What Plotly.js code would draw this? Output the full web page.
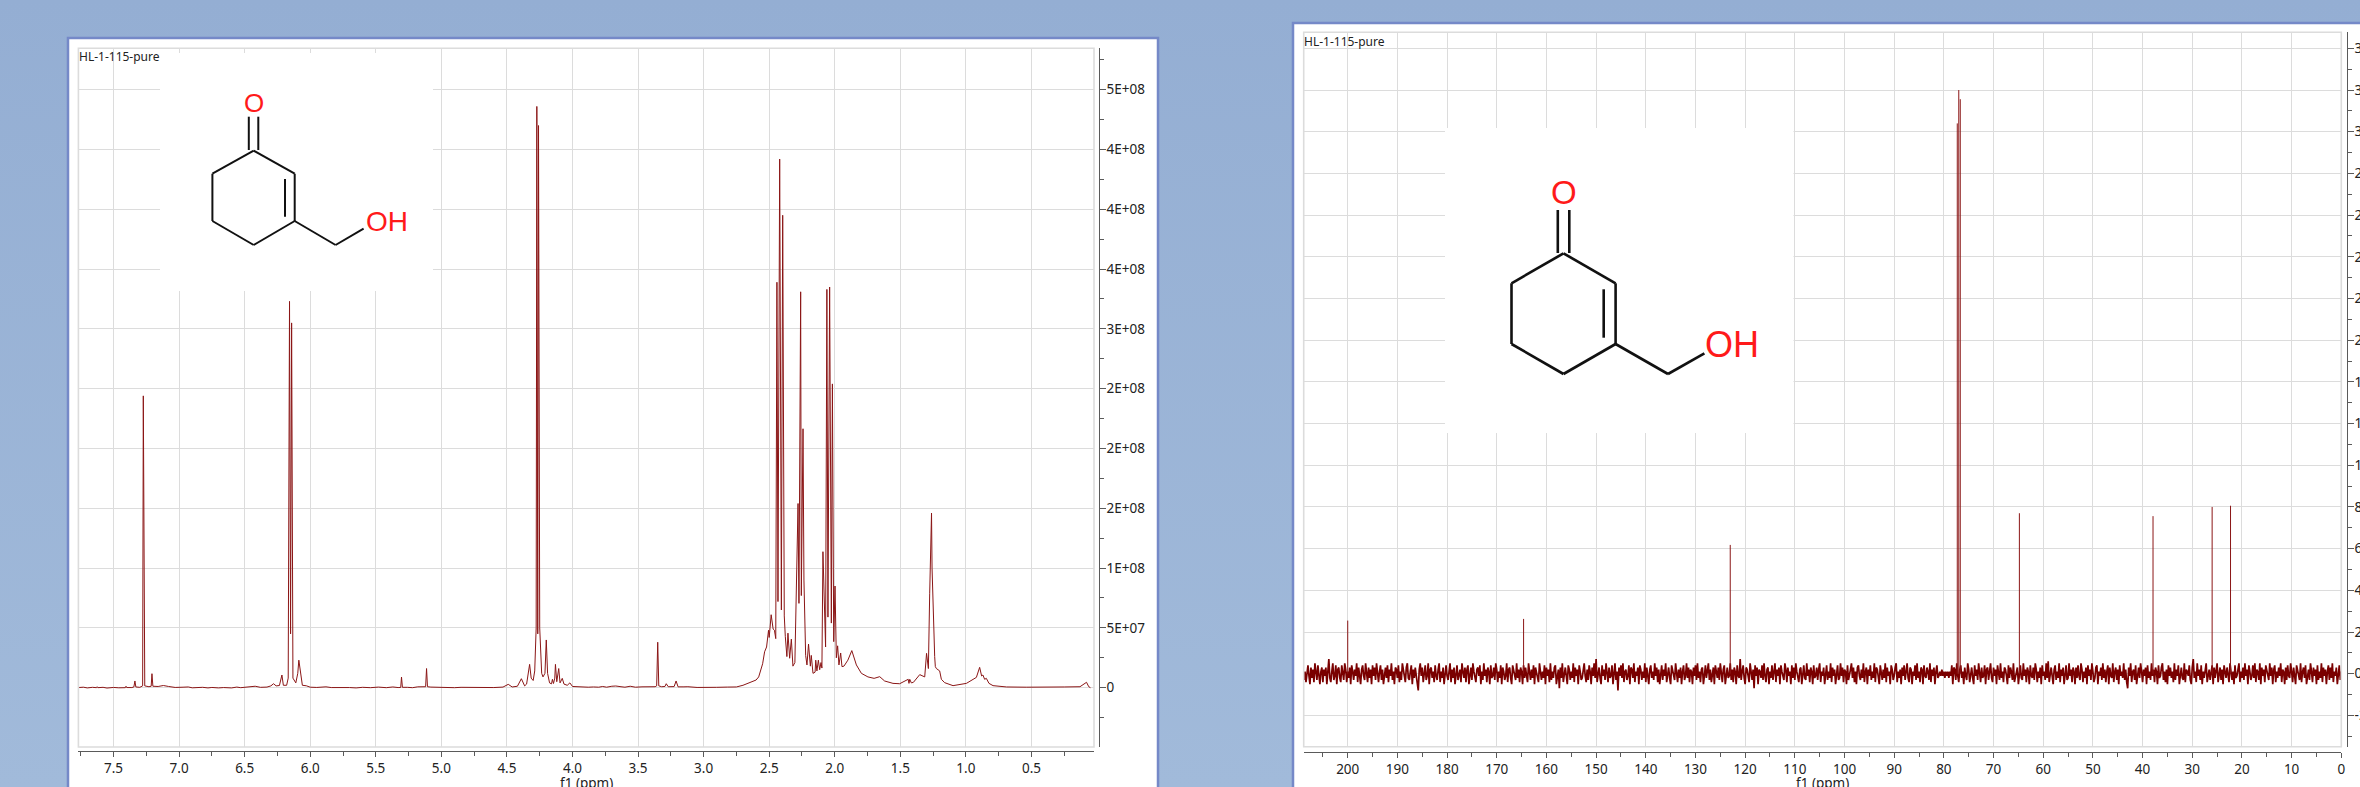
<!DOCTYPE html>
<html>
<head>
<meta charset="utf-8">
<script src="https://cdn.plot.ly/plotly-3.0.1.min.js"></script>
<style>
html,body{margin:0;padding:0;width:2360px;height:787px;overflow:hidden;background:linear-gradient(180deg,#94aed3 0%,#a1bada 100%);}
#chart{width:2360px;height:787px;}
</style>
</head>
<body>
<div id="chart"></div>
<script>
// 1H spectrum, ppm and intensity in units of 1E+06
const protonPpm = [7.768,7.73,7.70,7.66,7.63,7.625,7.62,7.58,7.55,7.50,7.46,7.41,7.405,7.40,7.36,7.345,7.337,7.33,7.30,7.278,7.273,7.268,7.262,7.23,7.213,7.207,7.20,7.16,7.12,7.08,7.03,6.97,6.93,6.90,6.86,6.82,6.78,6.75,6.70,6.66,6.60,6.56,6.53,6.50,6.46,6.42,6.38,6.33,6.30,6.28,6.26,6.235,6.216,6.205,6.18,6.168,6.158,6.150,6.142,6.132,6.11,6.095,6.087,6.075,6.06,6.03,6.00,5.95,5.88,5.84,5.80,5.75,5.70,5.65,5.60,5.54,5.48,5.42,5.37,5.33,5.31,5.304,5.297,5.26,5.22,5.18,5.13,5.12,5.113,5.106,5.08,5.03,4.99,4.95,4.90,4.85,4.80,4.75,4.70,4.65,4.60,4.53,4.49,4.46,4.42,4.39,4.365,4.35,4.335,4.327,4.315,4.30,4.288,4.277,4.272,4.265,4.259,4.25,4.235,4.225,4.21,4.20,4.19,4.175,4.16,4.153,4.145,4.135,4.13,4.12,4.105,4.095,4.078,4.065,4.04,4.02,4.00,3.95,3.88,3.84,3.80,3.77,3.74,3.70,3.67,3.63,3.60,3.56,3.52,3.47,3.42,3.37,3.358,3.35,3.342,3.32,3.295,3.285,3.27,3.225,3.21,3.195,3.15,3.12,3.05,3.00,2.95,2.90,2.82,2.75,2.70,2.66,2.63,2.60,2.58,2.56,2.55,2.535,2.52,2.505,2.50,2.485,2.47,2.46,2.45,2.441,2.433,2.42,2.407,2.397,2.385,2.377,2.365,2.357,2.344,2.331,2.319,2.304,2.28,2.273,2.26,2.255,2.242,2.235,2.222,2.212,2.20,2.186,2.179,2.166,2.15,2.145,2.136,2.125,2.115,2.105,2.098,2.09,2.07,2.06,2.052,2.039,2.026,2.018,2.008,1.998,1.988,1.978,1.968,1.955,1.945,1.93,1.90,1.87,1.835,1.797,1.747,1.70,1.657,1.62,1.556,1.505,1.44,1.434,1.428,1.416,1.40,1.352,1.314,1.30,1.286,1.276,1.262,1.258,1.25,1.243,1.238,1.233,1.225,1.20,1.187,1.162,1.098,0.996,0.92,0.895,0.88,0.87,0.857,0.844,0.824,0.793,0.69,0.54,0.45,0.35,0.25,0.13,0.08,0.063,0.05,0.023];
const protonInt = [0.1,0.4,-0.2,0.3,0.0,0.8,0,0.3,-0.3,0.2,-0.1,0.0,1.2,0.1,0.1,0.6,5.6,0.6,0.3,1.5,244,120,1.5,0.8,1.2,11.7,1.2,1,1.8,1,0.2,0.4,0.6,-0.1,0.3,0.3,-0.2,0.2,-0.2,0.1,-0.2,0.5,0,0.2,0.4,1.2,0.3,0.5,1.5,3.3,1.5,1.8,10.6,2,2,8,323,45,305,8,4,12,23,12,2,1.6,0.4,0.2,0.7,0.1,0.2,-0.2,0.1,-0.2,0.3,0,0.5,0,0.6,0.1,0.2,8.9,0.3,0.3,0,0.7,0.6,0.8,16,0.8,0.5,0.3,0.1,0.3,0,0.3,0.2,0.4,-0.1,0.3,0.1,0.5,2.8,0.6,1.2,7.5,1.5,3,12,19.5,8,6,14,50,486,45,470,50,12,9,12,39.9,12,4,3.2,7,3.5,8,19.5,5,16,4,7.8,3,2,4,1,0.6,0.4,0.6,0.4,1,0.4,1.2,1.4,0.8,0.4,1.2,0.4,0.7,0.6,0.8,1.5,38,1.5,0.8,1,3.3,0.8,0.9,5.6,0.7,0.7,0.8,0.2,0.1,0.3,0.3,0.5,0.6,2,4,5.4,6.4,9,18,20,30,34,48,42,61,49,48,41,339,72,442,65,395,60,42.6,26,45.6,24.6,40.6,18,21,154,70.5,331,77,216.5,90,27,19,36.5,18,27,12,13,23,14,23,15,21,16.4,113.7,34,333,59,335,54,254,38.5,85,25,35,19,29,17.6,18,23,31,19,12,9,7.8,9.2,5.6,3.6,3.3,7,3.6,7,4,4.5,10.9,9,28.7,16,79,146,100,60,36,26,17.6,16,14,7,4.2,1.7,3.6,8.6,17,9.8,10.6,7,7.8,3.6,1.7,0.6,0.4,0.3,0.5,0.6,0.8,4.5,0.8,0];

// 13C spectrum, intensity in units of 1E+06: baseline readings, one every carbonStep ppm from carbonStart
const carbonStart = 208.8;
const carbonStep = 0.2;
const carbonNoise = [
-3,1,-4,2,4,-1,-5,3,-2,2,-4,5,1,-3,4,-2,-5,1,3,-4,
2,-1,3,-5,4,7,-2,-4,1,5,-3,-1,4,-5,2,3,-2,-4,4,-1,
-3,5,2,-4,1,-2,3,-5,4,1,-3,2,-1,5,-4,3,-2,-5,2,4,
-1,-3,5,1,-4,3,-2,2,-5,4,-1,3,-3,5,-2,-4,1,4,-3,2,
-5,1,3,-2,4,-4,2,-1,5,-3,1,-5,3,2,-2,4,-4,1,-3,5,
2,-1,-4,3,5,-2,-3,1,4,-5,2,-2,3,-1,-4,-8,2,5,-1,3,
-4,1,4,-3,-1,5,-5,2,3,-2,1,-4,4,-1,-3,2,5,-4,1,-2,
3,-5,2,4,-1,-3,1,5,-4,2,-2,3,-5,1,4,-3,-1,2,-4,5,
1,-2,3,-4,2,4,-5,-1,3,-3,5,1,-2,-4,2,3,-1,4,-5,1,
-3,5,-1,2,-4,3,1,-5,4,-2,-1,3,-3,5,2,-4,1,-2,4,-5,
3,1,-3,-1,5,-4,2,3,-2,-5,4,1,-1,-3,5,-2,2,-4,3,1,
-5,4,-2,3,-1,-4,5,1,-3,2,-2,4,-5,3,1,-1,-4,5,2,-3,
1,-2,4,-5,3,-1,2,-4,5,-3,1,-2,3,4,-5,-1,2,-7,3,-2,
5,-4,1,3,-1,-5,4,2,-3,1,-2,5,-4,3,-1,2,-5,4,1,-3,
-2,3,5,-1,-4,2,-3,4,1,-5,3,-1,5,-2,7,-4,1,3,-2,-5,
4,-1,2,-3,5,1,-4,3,-2,-1,4,-5,2,5,-3,1,-8,3,-1,4,
-2,5,-4,1,2,-3,-1,4,-5,3,2,-2,5,-4,1,-1,3,-5,4,2,
-3,1,-2,5,-4,3,-1,-5,2,4,-2,1,-3,5,-1,3,-4,2,-5,1,
4,-3,2,-1,5,-4,1,3,-2,-5,4,2,-1,-3,5,1,-4,2,-2,3,
-5,1,4,-3,-1,5,-2,3,-4,2,1,-5,3,-1,4,-3,5,-2,1,-4,
2,3,-5,-1,4,-2,1,5,-3,2,-4,-1,3,-5,4,1,-2,3,-3,5,
-1,-4,2,4,-5,1,3,-2,-1,5,-3,2,-4,3,1,-5,4,-1,-2,7,
-3,1,4,-2,-5,3,2,-1,-4,5,1,-3,2,-7,4,-1,3,-5,2,1,
-2,4,-3,5,-1,-4,2,3,-5,1,-2,4,-3,1,5,-4,2,-1,3,-5,
4,1,-2,-3,5,2,-4,3,-1,1,-5,4,-2,3,-3,5,1,-1,-4,2,
3,-5,1,4,-2,-3,5,-1,2,-4,3,1,-5,4,-2,-1,3,-3,2,5,
-4,1,-1,3,-5,2,4,-3,1,-2,5,-4,3,-1,2,-5,1,4,-3,-2,
5,-1,3,-4,2,1,-5,4,-3,-1,2,5,-2,3,-4,1,-5,3,4,-1,
-3,2,-2,5,-4,1,3,-5,2,-1,4,-3,1,-2,5,-4,3,2,-1,-5,
4,1,-3,2,-2,5,-4,3,-1,1,-5,4,2,-3,-1,3,5,-4,1,-2,
2,-5,3,-1,4,-3,1,5,-2,-4,3,2,-5,1,-1,4,-3,5,-2,1,
-4,3,2,-5,4,-1,-2,3,1,-3,5,-4,2,-1,3,-5,1,4,-2,-1,
1,-1,2,-1,1,-2,1,-1,1,-2,1,-1,4,-5,3,2,-3,5,-1,-4,
2,4,-2,1,-5,3,-1,-3,5,2,-4,1,3,-2,-5,4,-1,2,-3,5,
1,-4,3,-2,-1,4,-5,2,3,-3,1,5,-2,-4,3,-1,2,-5,4,1,
-3,5,-2,1,-4,3,2,-1,-5,4,-2,3,1,-3,5,-4,-1,2,3,-5,
1,4,-2,-3,5,-1,2,-4,3,1,-5,4,-1,-2,3,-3,5,2,-4,1,
-2,3,-5,4,-1,1,-3,5,-2,6,-4,1,3,-1,-5,2,4,-3,1,-2,
5,-4,2,-1,3,-5,1,4,-3,-2,5,-1,2,-4,3,1,-5,3,-2,4,
-1,-3,5,2,-4,1,-2,3,-5,4,-1,2,-3,5,1,-4,-2,3,4,-5,
1,-1,3,-3,5,-2,2,-4,1,4,-5,3,-1,-2,5,-4,1,3,-3,2,
-5,4,-1,1,-2,5,-3,2,-4,-7,3,-1,5,-4,1,2,-3,4,-5,-1,
3,-2,5,1,-4,2,-1,3,-5,4,-2,1,-3,5,-1,2,-4,3,1,-5,
4,-2,-1,3,5,-3,1,-4,2,-5,4,-1,3,-2,1,-4,5,-3,2,-1,
4,-5,1,3,-2,-3,5,-4,2,1,-1,4,-3,-5,3,7,-2,1,-4,5,
-1,2,-3,4,-5,1,-2,3,5,-4,-1,2,-3,1,4,-5,3,-2,1,5,
-4,-1,3,-3,2,-5,4,1,-2,3,-1,-4,5,2,-3,1,-5,4,-2,-1,
3,5,-4,1,-2,3,-3,5,-1,2,-5,4,1,-3,-1,4,-2,5,-4,2,
1,-3,5,-5,3,-1,2,-4,4,1,-2,-3,5,-1,3,-5,2,4,-4,1,
-2,3,-1,5,-4,2,1,-5,3,-3,4,-1,-2,5,1,-4,3,-2,-5,4,
2,-1,-3,5,-4,1,3,-2,4,-5,-1,2,-3,5,1,-4,3,-1,2,-5,
4,-3,1,-2,5,-4,3,-1,2,-5,1,4,-3,3,-2,5,-4,1,-1,3,
-5,2,4,-3,1,-4,5,-2,3,-1,-3,4,-5,2,-2,-4,3,1,-3,-5
];
// 13C sharp lines
const carbonPeakPpm = [200.0,164.6,123.0,77.3,77.0,76.7,64.8,37.9,26.0,22.3];
const carbonPeakInt = [25.5,26.3,61.8,264,280,275.6,77,75.6,80,80.6];

const protonTickVals = [0,50,100,150,200,250,300,350,400,450,500];
const protonTickText = ["0","5E+07","1E+08","2E+08","2E+08","2E+08","3E+08","4E+08","4E+08","4E+08","5E+08"];
const carbonTickVals = [-20,0,20,40,60,80,100,120,140,160,180,200,220,240,260,280,300];
const carbonTickText = ["-2E+07","0","2E+07","4E+07","6E+07","8E+07","1E+08","1E+08","1E+08","2E+08","2E+08","2E+08","2E+08","2E+08","3E+08","3E+08","3E+08"];

const sampleName = "HL-1-115-pure";
const axisName = "f1 (ppm)";

const W = 2360, H = 787;
const px = x => x / W, py = y => 1 - y / H;
const lineColor = '#8b1616', gridColor = '#dcdcdc', axisColor = '#5a5a5a', textColor = '#222222';
const FONT = '"Noto Sans", "Open Sans", sans-serif';

// page-pixel layout of the two windows
const L = {left:78.4,right:1094,top:48.3,bottom:747,axisX:1098.7,axisY:751,win:[68,38,1158,800],inset:[160,53,433,291]};
const R = {left:1303.7,right:2341.3,top:32.3,bottom:746.7,axisX:2346.7,axisY:752,win:[1293,23,2400,800],inset:[1445,128,1793.5,433]};

const carbonX = carbonNoise.map((_, i) => carbonStart - i * carbonStep);
const stickX = [], stickY = [];
carbonPeakPpm.forEach((p, i) => { stickX.push(p, p, null); stickY.push(0, carbonPeakInt[i], null); });

const traces = [
  {type:'scatter',mode:'lines',x:protonPpm,y:protonInt,xaxis:'x',yaxis:'y',line:{color:lineColor,width:1},hoverinfo:'skip'},
  {type:'scatter',mode:'lines',x:carbonX,y:carbonNoise,xaxis:'x2',yaxis:'y2',line:{color:'#7a0000',width:1.7},hoverinfo:'skip'},
  {type:'scatter',mode:'lines',x:stickX,y:stickY,xaxis:'x2',yaxis:'y2',line:{color:lineColor,width:1},hoverinfo:'skip'}
];

function xAxis(P, range, dtick, minorD, fmt){
  return {domain:[px(P.left),px(P.right)],range,anchor:'free',position:py(P.axisY),
    showgrid:true,gridcolor:gridColor,gridwidth:1.4,zeroline:false,
    showline:true,linecolor:axisColor,linewidth:1.4,
    tickmode:'linear',tick0:0,dtick,ticks:'outside',ticklen:5,tickcolor:axisColor,tickwidth:1,
    minor:{tickmode:'linear',tick0:0,dtick:minorD,ticks:'outside',ticklen:4,tickcolor:axisColor,tickwidth:1,showgrid:false},
    tickformat:fmt,tickfont:{family:FONT,size:13.5,color:textColor}};
}
function yAxis(P, range, vals, text, minorD){
  return {domain:[py(P.bottom),py(P.top)],range,anchor:'free',position:px(P.axisX),side:'right',
    showgrid:true,gridcolor:gridColor,gridwidth:1.4,zeroline:false,
    showline:true,linecolor:axisColor,linewidth:1.4,
    tickmode:'array',tickvals:vals,ticktext:text,ticks:'outside',ticklen:6,tickcolor:axisColor,tickwidth:1,
    ticklabelstandoff:-2,
    minor:{tickmode:'linear',tick0:0,dtick:minorD,ticks:'outside',ticklen:4,tickcolor:axisColor,tickwidth:1,showgrid:false},
    tickfont:{family:FONT,size:13.5,color:textColor}};
}

const shapes = [];
function windowBox(P){
  const w = P.win;
  shapes.push({type:'rect',xref:'paper',yref:'paper',layer:'below',x0:px(w[0]),x1:px(w[2]),y0:py(w[3]),y1:py(w[1]),fillcolor:'#ffffff',line:{color:'#7589c8',width:2.5}});
}
function frameBox(P){
  shapes.push({type:'rect',xref:'paper',yref:'paper',layer:'above',x0:px(P.left),x1:px(P.right),y0:py(P.bottom),y1:py(P.top),fillcolor:'rgba(0,0,0,0)',line:{color:gridColor,width:1.6}});
}
function insetBox(P, xr, yr, xRange, yRange){
  const n = P.inset;
  const toX = v => xRange[0] + (v - P.left) / (P.right - P.left) * (xRange[1] - xRange[0]);
  const toY = v => yRange[0] + (P.bottom - v) / (P.bottom - P.top) * (yRange[1] - yRange[0]);
  shapes.push({type:'rect',xref:xr,yref:yr,layer:'between',x0:toX(n[0]),x1:toX(n[2]),y0:toY(n[3]),y1:toY(n[1]),fillcolor:'#ffffff',line:{width:0}});
}
function bonds(list, width){
  list.forEach(b => shapes.push({type:'line',xref:'paper',yref:'paper',layer:'above',x0:px(b[0]),y0:py(b[1]),x1:px(b[2]),y1:py(b[3]),line:{color:'#111111',width}}));
}
const rangeLX = [7.768,0.023], rangeLY = [-49.6,534.6], rangeRX = [208.86,0], rangeRY = [-35,307.7];
windowBox(L); windowBox(R);
frameBox(L); frameBox(R);
insetBox(L,'x','y',rangeLX,rangeLY); insetBox(R,'x2','y2',rangeRX,rangeRY);
bonds([[253.7,150.7,294.7,173.7],[294.7,173.7,294.7,221],[294.7,221,253.7,245],[253.7,245,212.4,221],[212.4,221,212.4,173.7],[212.4,173.7,253.7,150.7],
       [248.8,116.7,248.8,150],[258.3,116.7,258.3,150],[285,179,285,216.7],[294.7,221,335.6,245],[335.6,245,363.6,228.7]],2);
bonds([[1563.5,253.3,1615.6,283.3],[1615.6,283.3,1615.6,344],[1615.6,344,1563.5,374],[1563.5,374,1511.5,344],[1511.5,344,1511.5,283.3],[1511.5,283.3,1563.5,253.3],
       [1557.8,210,1557.8,253],[1569.3,210,1569.3,253],[1603.7,289.3,1603.7,337.7],[1615.6,344,1668,374],[1668,374,1704.4,353.3]],2.6);

function label(text,x,y,size,color,xanchor){
  return {text,xref:'paper',yref:'paper',x:px(x),y:py(y),xanchor,yanchor:'middle',showarrow:false,
    font:{family:color==='#ff1a1a'?'"Liberation Sans", Arial, sans-serif':FONT,size,color}};
}
const annotations = [
  label(sampleName,77,56.5,12,textColor,'left'),
  label(sampleName,1302,41,12,textColor,'left'),
  label(axisName,586,783,13.5,textColor,'center'),
  label(axisName,1822,783,13.5,textColor,'center'),
  label('O',253.7,103.3,26,'#ff1a1a','center'),
  label('OH',386.5,221,28,'#ff1a1a','center'),
  label('O',1563.5,192.3,33,'#ff1a1a','center'),
  label('OH',1732.3,344,36,'#ff1a1a','center')
];

const layout = {
  width:W,height:H,autosize:false,showlegend:false,
  margin:{l:0,r:0,t:0,b:0,pad:0},
  paper_bgcolor:'rgba(0,0,0,0)',plot_bgcolor:'rgba(0,0,0,0)',
  xaxis:xAxis(L,rangeLX,0.5,0.25,'.1f'),
  yaxis:yAxis(L,rangeLY,protonTickVals,protonTickText,25),
  xaxis2:xAxis(R,rangeRX,10,5,'d'),
  yaxis2:yAxis(R,rangeRY,carbonTickVals,carbonTickText,10),
  shapes,annotations
};
Plotly.newPlot('chart',traces,layout,{displayModeBar:false,responsive:false});
</script>
</body>
</html>
